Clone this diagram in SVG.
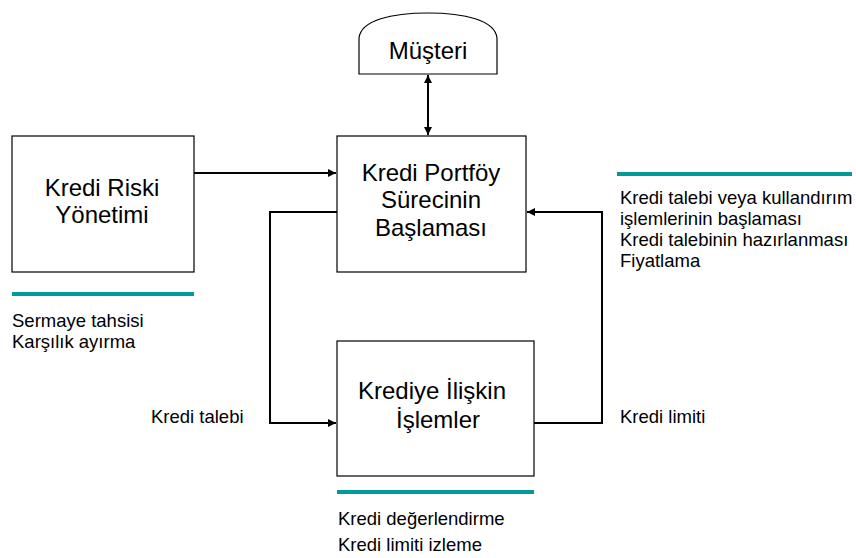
<svg xmlns="http://www.w3.org/2000/svg" width="856" height="558" viewBox="0 0 856 558">
<style>
.box{fill:#fff;stroke:#000;stroke-width:1.2}
.big{font-family:"Liberation Sans",Arial,sans-serif;font-size:24px;fill:#000;text-anchor:middle}
.sm{font-family:"Liberation Sans",Arial,sans-serif;font-size:18.5px;fill:#000}
.teal{stroke:#009a98;stroke-width:4}
.con{fill:none;stroke:#000;stroke-width:2}
</style>
<defs>
<marker id="ah" viewBox="0 0 10 10" refX="10" refY="5" markerWidth="9" markerHeight="8" markerUnits="userSpaceOnUse" orient="auto-start-reverse">
<path d="M0,0 L10,5 L0,10 Z" fill="#000"/>
</marker>
</defs>
<rect width="856" height="558" fill="#fff"/>
<g id="connectors">
<line class="con" x1="428" y1="75" x2="428" y2="135" marker-start="url(#ah)" marker-end="url(#ah)"/>
<line class="con" x1="194" y1="173" x2="336" y2="173" marker-end="url(#ah)"/>
<polyline class="con" points="337,212 270,212 270,423 336,423" marker-end="url(#ah)"/>
<polyline class="con" points="534,423 602,423 602,212 527,212" marker-end="url(#ah)"/>
</g>
<g id="musteri">
<path class="box" d="M359,74 L359,38 C361,20 392,13 428,13 C464,13 495,20 497,38 L497,74 Z"/>
<text class="big" x="428" y="59">Müşteri</text>
</g>
<g id="kredi-portfoy">
<rect class="box" x="337" y="136" width="189" height="136"/>
<text class="big" x="431" y="181">Kredi Portföy</text>
<text class="big" x="431" y="208">Sürecinin</text>
<text class="big" x="431" y="236">Başlaması</text>
</g>
<g id="kredi-riski">
<rect class="box" x="12" y="136" width="182" height="136"/>
<text class="big" x="102" y="196">Kredi Riski</text>
<text class="big" x="102" y="223">Yönetimi</text>
<line class="teal" x1="12" y1="294" x2="194" y2="294"/>
<text class="sm" x="12" y="327">Sermaye tahsisi</text>
<text class="sm" x="12" y="348">Karşılık ayırma</text>
</g>
<g id="krediye-iliskin">
<rect class="box" x="337" y="341" width="197" height="135"/>
<text class="big" x="432" y="399">Krediye İlişkin</text>
<text class="big" x="438" y="428">İşlemler</text>
<line class="teal" x1="337" y1="492" x2="534" y2="492"/>
<text class="sm" x="338" y="525">Kredi değerlendirme</text>
<text class="sm" x="338" y="551">Kredi limiti izleme</text>
</g>
<g id="notes">
<line class="teal" x1="617" y1="174" x2="852" y2="174"/>
<text class="sm" x="620" y="204">Kredi talebi veya kullandırım</text>
<text class="sm" x="620" y="225">işlemlerinin başlaması</text>
<text class="sm" x="620" y="246">Kredi talebinin hazırlanması</text>
<text class="sm" x="620" y="267">Fiyatlama</text>
<text class="sm" x="151" y="423">Kredi talebi</text>
<text class="sm" x="620" y="423">Kredi limiti</text>
</g>
</svg>
